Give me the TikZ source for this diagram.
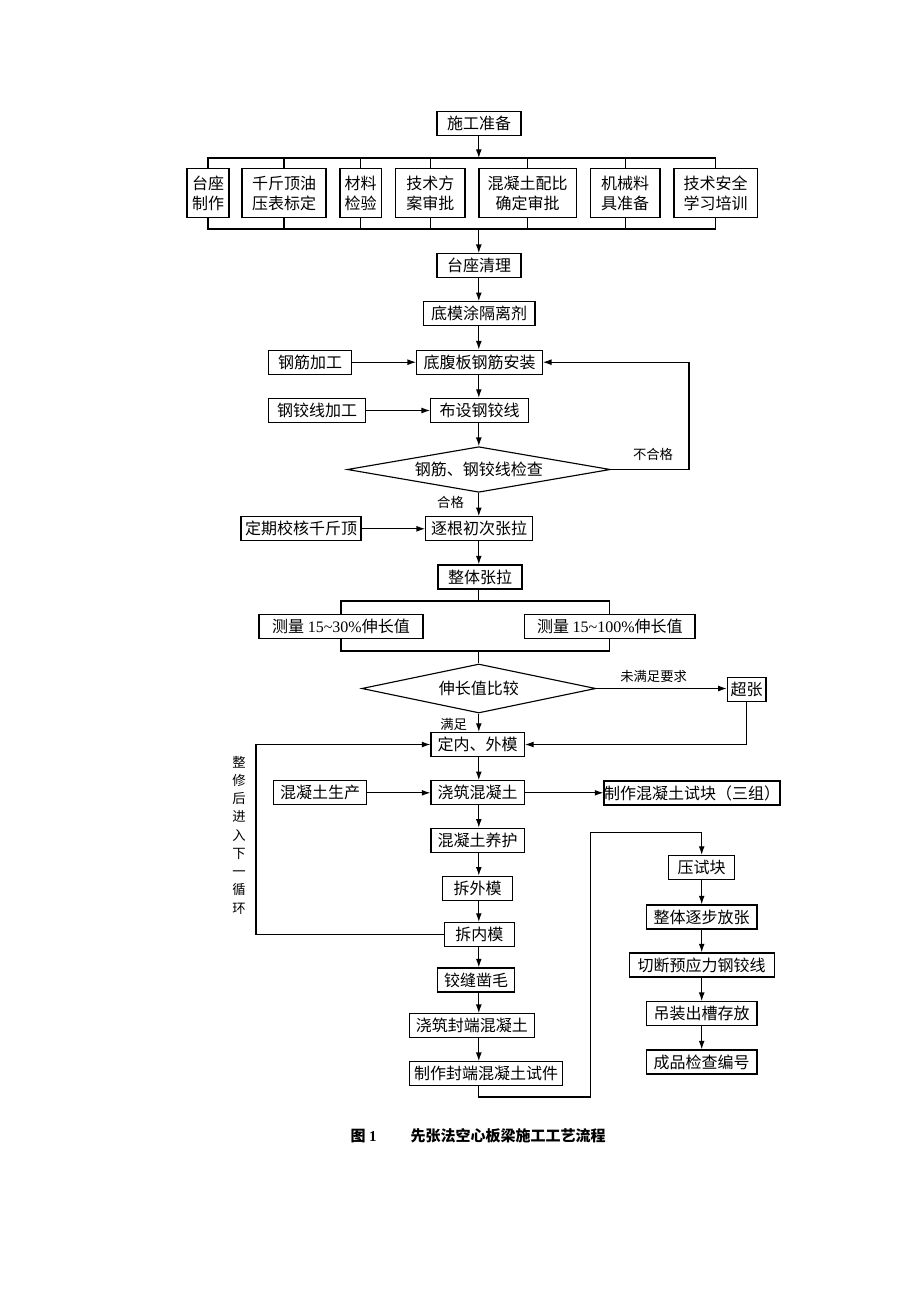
\documentclass[tikz,border=0pt]{standalone}
\usepackage{fontspec}
\setmainfont{Liberation Serif}
\newfontfamily\cjk{Noto Sans CJK SC}
\usetikzlibrary{arrows.meta,shapes.geometric}
\begin{document}
\begin{tikzpicture}[x=0.75pt,y=-0.75pt,
  every node/.style={font=\cjk\fontsize{12}{15}\selectfont},
  box/.style={draw, line width=0.85pt, inner sep=0pt, minimum height=18pt, minimum width={#1*0.75pt}, align=center},
  tall/.style={draw, line width=0.85pt, inner sep=0pt, minimum height=36.4pt, minimum width={#1*0.75pt}, align=center},
  dia/.style={draw, diamond, line width=0.85pt, inner sep=0pt},
  lbl/.style={font=\cjk\fontsize{10}{12}\selectfont, inner sep=0pt},
  ln/.style={line width=0.85pt},
  arr/.style={ln, -{Latex[length=6.5pt,width=4.4pt]}}]
\fill[white] (0,0) rectangle (920,1302);
\useasboundingbox (0,0) rectangle (920,1302);
\coordinate (mx) at (478.8,0);

% top section
\node[box=84] (prep) at (479,123.5) {施工准备};
\node[tall=42] (b1) at (208,193.2) {台座\\制作};
\node[tall=84] (b2) at (284,193.2) {千斤顶油\\压表标定};
\node[tall=41.5] (b3) at (360.7,193.2) {材料\\检验};
\node[tall=69.3] (b4) at (430.3,193.2) {技术方\\案审批};
\node[tall=97.3] (b5) at (527.7,193.2) {混凝土配比\\确定审批};
\node[tall=69.5] (b6) at (625.2,193.2) {机械料\\具准备};
\node[tall=83.3] (b7) at (715.7,193.2) {技术安全\\学习培训};
\coordinate (tb) at (478.8,158);
\coordinate (bb) at (478.8,229);
\draw[arr] (prep.south -| mx) -- (tb);
\draw[ln] (b1.north) -- (b1.north |- tb) -- (b7.north |- tb) -- (b7.north);
\draw[ln] (b1.south) -- (b1.south |- bb) -- (b7.south |- bb) -- (b7.south);
\foreach \n in {b2,b3,b4,b5,b6} {
  \draw[ln] (\n.north) -- (\n.north |- tb);
  \draw[ln] (\n.south) -- (\n.south |- bb);
}

% main chain
\node[box=84] (clean) at (479,265.7) {台座清理};
\node[box=111.7] (mold) at (479.2,313.8) {底模涂隔离剂};
\node[box=125.6] (rebar) at (479.5,362.2) {底腹板钢筋安装};
\node[box=83.4] (rp) at (310,362.2) {钢筋加工};
\node[box=97.4] (sp) at (317,410.5) {钢铰线加工};
\node[box=97.6] (lay) at (479.5,410.5) {布设钢铰线};
\node[dia, aspect=5.77, minimum width={263*0.75pt}, minimum height={45.6*0.75pt}] (chk) at (478.8,469.5) {钢筋、钢铰线检查};
\node[lbl] (nok) at (653,454) {不合格};
\node[lbl] (ok) at (450.5,502.5) {合格};
\node[box=107] (init) at (479.2,528.8) {逐根初次张拉};
\node[box=120] (cal) at (301,528.8) {定期校核千斤顶};
\node[box=84] (whole) at (480,577) {整体张拉};
\node[box=164] (m1) at (341,626.3) {测量 {\rmfamily 15\textasciitilde30\%}伸长值};
\node[box=170.5] (m2) at (609.8,626.3) {测量 {\rmfamily 15\textasciitilde100\%}伸长值};
\node[dia, aspect=4.78, minimum width={234*0.75pt}, minimum height={49*0.75pt}] (cmp) at (478.8,688.5) {伸长值比较};
\node[lbl] (nsat) at (653.6,676) {未满足要求};
\node[box=38.6] (over) at (746.7,689.5) {超张};
\node[lbl] (sat) at (453.7,724) {满足};
\node[box=93.3] (form) at (477.7,744.5) {定内、外模};
\node[box=93.3] (pour) at (477.7,792.8) {浇筑混凝土};
\node[box=93.4] (prod) at (320,792.8) {混凝土生产};
\node[box=172.3] (cube) at (692,793) {制作混凝土试块（三组）};
\node[box=93.3] (cure) at (477.7,840.3) {混凝土养护};
\node[box=69.6] (rmo) at (477.5,888.3) {拆外模};
\node[box=70] (rmi) at (479.3,934.5) {拆内模};
\node[box=77] (joint) at (476,980) {铰缝凿毛};
\node[box=125] (seal) at (471.8,1025.7) {浇筑封端混凝土};
\node[box=153.4] (spec) at (486,1073.7) {制作封端混凝土试件};

% right column
\node[box=66] (press) at (701.7,867.5) {压试块};
\node[box=110.7] (rel) at (701.7,917) {整体逐步放张};
\node[box=145] (cut) at (701.7,965) {切断预应力钢铰线};
\node[box=110.7] (lift) at (701.7,1013.7) {吊装出槽存放};
\node[box=110.7] (fin) at (701.7,1062) {成品检查编号};

% vertical text
\node[lbl, font=\cjk\fontsize{10}{13.7}\selectfont, align=center] (cyc) at (239,835) {整\\修\\后\\进\\入\\下\\一\\循\\环};

% caption
\node[font=\cjk\bfseries\fontsize{11.25}{13}\selectfont, inner sep=0pt] (fig) at (363.7,1136) {图 {\rmfamily\bfseries 1}};
\node[font=\cjk\bfseries\fontsize{11.25}{13}\selectfont, inner sep=0pt] (title) at (508,1136) {先张法空心板梁施工工艺流程};

% connectors main chain
\draw[arr] (bb) -- (clean.north -| mx);
\draw[arr] (clean.south -| mx) -- (mold.north -| mx);
\draw[arr] (mold.south -| mx) -- (rebar.north -| mx);
\draw[arr] (rebar.south -| mx) -- (lay.north -| mx);
\draw[arr] (lay.south -| mx) -- (chk.north);
\draw[arr] (chk.south) -- (init.north -| chk.south);
\draw[arr] (init.south -| mx) -- (whole.north -| mx);
\draw[arr] (rp.east) -- (rebar.west);
\draw[arr] (sp.east) -- (lay.west);
\draw[arr] (cal.east) -- (init.west);
\coordinate (fbx) at (689,0);
\draw[arr] (chk.east) -- (chk.east -| fbx) |- (rebar.east);

% measurement bars
\coordinate (ub) at (478.8,601);
\coordinate (lbar) at (478.8,651);
\draw[ln] (whole.south -| mx) -- (ub);
\draw[ln] (m1.north) -- (m1.north |- ub) -- (m2.north |- ub) -- (m2.north);
\draw[ln] (m1.south) -- (m1.south |- lbar) -- (m2.south |- lbar) -- (m2.south);
\draw[ln] (lbar) -- (cmp.north);
\draw[arr] (cmp.east) -- (cmp.east -| over.west);
\draw[arr] (cmp.south) -- (form.north -| cmp.south);
\draw[arr] (over.south) |- (form.east);

% lower chain
\draw[arr] (form.south -| mx) -- (pour.north -| mx);
\draw[arr] (prod.east) -- (pour.west);
\draw[arr] (pour.east) -- (pour.east -| cube.west);
\draw[arr] (pour.south -| mx) -- (cure.north -| mx);
\draw[arr] (cure.south -| mx) -- (rmo.north -| mx);
\draw[arr] (rmo.south -| mx) -- (rmi.north -| mx);
\draw[arr] (rmi.south -| mx) -- (joint.north -| mx);
\draw[arr] (joint.south -| mx) -- (seal.north -| mx);
\draw[arr] (seal.south -| mx) -- (spec.north -| mx);
\coordinate (lx) at (256,0);
\draw[arr] (rmi.west) -- (rmi.west -| lx) |- (form.west);
\coordinate (lb) at (590.7,1097);
\coordinate (lt) at (590.7,832.3);
\draw[arr] (spec.south -| mx) |- (lb) -- (lt) -| (press.north);

% right chain
\draw[arr] (press) -- (rel);
\draw[arr] (rel) -- (cut);
\draw[arr] (cut) -- (lift);
\draw[arr] (lift) -- (fin);
\end{tikzpicture}
\end{document}
